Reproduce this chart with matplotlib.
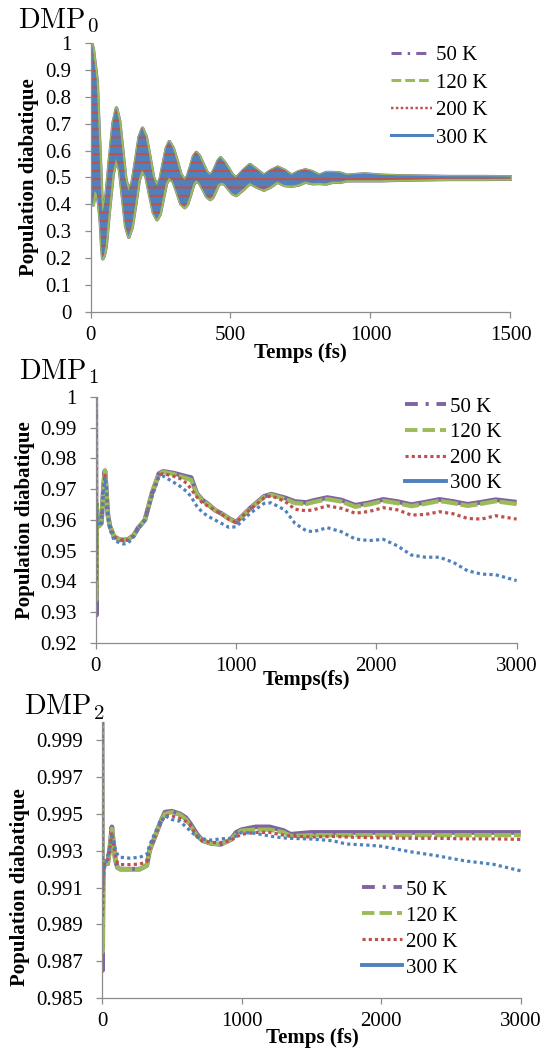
import matplotlib
matplotlib.use('Agg')
import matplotlib.pyplot as plt
from matplotlib.lines import Line2D
from matplotlib.ticker import FuncFormatter, MultipleLocator

plt.rcParams['font.family'] = ['Liberation Serif', 'DejaVu Serif']
plt.rcParams['mathtext.fontset'] = 'cm'
plt.rcParams['hatch.linewidth'] = 1.5

labels = ['50 K', '120 K', '200 K', '300 K']
colors = ['#8064A2', '#9BBB59', '#C0504D', '#4F81BD']

# DMP0 : band of the fast oscillation (top / bottom), read on the picture
t0 = [0, 3, 8, 15, 22, 28, 34, 38, 42, 47, 54, 66, 79, 91, 102, 113, 124, 135, 147,
      160, 172, 184, 197, 210, 223, 236, 247, 258, 269, 280, 294, 308, 321, 335, 345,
      356, 366, 376, 388, 401, 414, 426, 435, 445, 454, 463, 477, 491, 505, 519, 543,
      568, 593, 618, 642, 667, 692, 717, 741, 766, 791, 816, 840, 865, 890, 915, 977,
      1038, 1100, 1162, 1286, 1400, 1500]
dmp0_top = [1.0, 1.0, 0.98, 0.92, 0.86, 0.70, 0.55, 0.44, 0.37, 0.39, 0.436, 0.568,
            0.704, 0.76, 0.713, 0.605, 0.497, 0.45, 0.483, 0.568, 0.652, 0.685, 0.653,
            0.58, 0.503, 0.47, 0.496, 0.553, 0.61, 0.635, 0.61, 0.562, 0.514, 0.49,
            0.507, 0.544, 0.58, 0.595, 0.581, 0.551, 0.522, 0.51, 0.52, 0.542, 0.564,
            0.575, 0.558, 0.536, 0.512, 0.50, 0.527, 0.55, 0.53, 0.51, 0.527, 0.54, 0.528,
            0.51, 0.523, 0.53, 0.523, 0.51, 0.52, 0.52, 0.518, 0.51, 0.515, 0.51, 0.508,
            0.507, 0.505, 0.505, 0.504]
dmp0_bot = [0.95, 0.42, 0.40, 0.45, 0.44, 0.40, 0.33, 0.25, 0.20, 0.21, 0.246, 0.382,
            0.514, 0.57, 0.529, 0.425, 0.321, 0.28, 0.317, 0.404, 0.492, 0.53, 0.503,
            0.435, 0.371, 0.345, 0.366, 0.422, 0.478, 0.50, 0.486, 0.445, 0.404, 0.39,
            0.403, 0.438, 0.474, 0.49, 0.481, 0.456, 0.43, 0.42, 0.428, 0.45, 0.472,
            0.48, 0.478, 0.46, 0.442, 0.435, 0.456, 0.48, 0.466, 0.455, 0.467, 0.485,
            0.472, 0.47, 0.474, 0.485, 0.479, 0.48, 0.478, 0.485, 0.484, 0.49, 0.49,
            0.49, 0.492, 0.493, 0.495, 0.495, 0.496]

# DMP1
t1 = [0, 3, 6, 10, 20, 40, 55, 65, 75, 85, 100, 130, 170, 200, 230, 270, 300, 350,
      400, 450, 480, 550, 600, 650, 680, 720, 760, 800, 850, 900, 950, 1000, 1100,
      1200, 1250, 1350, 1420, 1500, 1550, 1650, 1750, 1850, 1950, 2050, 2150, 2250,
      2350, 2450, 2550, 2650, 2750, 2850, 3000]
dmp1_50 = [1.0, 0.929, 0.965, 0.958, 0.958, 0.959, 0.971, 0.976, 0.970, 0.962, 0.958,
           0.9546, 0.9536, 0.9535, 0.9537, 0.955, 0.9573, 0.960, 0.9686, 0.9751, 0.9758,
           0.9753, 0.9747, 0.9741, 0.9738, 0.9686, 0.9665, 0.9652, 0.9632, 0.962, 0.9605,
           0.9593, 0.9638, 0.9677, 0.9684, 0.9672, 0.9660, 0.9657, 0.9663, 0.9673, 0.9665,
           0.9648, 0.9656, 0.9667, 0.9660, 0.9650, 0.9658, 0.9667, 0.9660, 0.9651, 0.9658,
           0.9666, 0.9658]
dmp1_120 = [1.0, 0.934, 0.965, 0.958, 0.958, 0.959, 0.971, 0.976, 0.970, 0.962, 0.958,
            0.9546, 0.9536, 0.9535, 0.9537, 0.955, 0.9573, 0.960, 0.9686, 0.9750, 0.9756,
            0.9750, 0.9742, 0.9735, 0.9730, 0.9684, 0.9663, 0.9650, 0.9632, 0.962, 0.9604,
            0.9592, 0.9637, 0.9675, 0.9682, 0.9668, 0.9655, 0.9652, 0.9658, 0.9668, 0.9660,
            0.9643, 0.9651, 0.9662, 0.9655, 0.9645, 0.9653, 0.9662, 0.9655, 0.9646, 0.9653,
            0.9661, 0.9652]
dmp1_200 = [1.0, 0.940, 0.962, 0.958, 0.958, 0.959, 0.970, 0.975, 0.970, 0.962, 0.958,
            0.9546, 0.9535, 0.9533, 0.9535, 0.955, 0.9572, 0.960, 0.9684, 0.9745, 0.9751,
            0.9743, 0.9735, 0.9719, 0.9700, 0.9675, 0.9656, 0.9645, 0.9632, 0.9618, 0.9602,
            0.9592, 0.9635, 0.9672, 0.9679, 0.9660, 0.9635, 0.9630, 0.9633, 0.9646, 0.9638,
            0.9622, 0.9628, 0.9640, 0.9633, 0.9616, 0.9618, 0.9627, 0.9620, 0.9605, 0.9603,
            0.9614, 0.9603]
dmp1_300 = [1.0, 0.950, 0.966, 0.960, 0.958, 0.959, 0.969, 0.974, 0.971, 0.963, 0.957,
            0.9535, 0.9525, 0.9522, 0.9525, 0.9545, 0.957, 0.960, 0.9675, 0.9740, 0.9743,
            0.9724, 0.9710, 0.9692, 0.9675, 0.9645, 0.9625, 0.9612, 0.9600, 0.9588, 0.9576,
            0.9578, 0.9622, 0.9654, 0.9656, 0.9632, 0.9589, 0.9565, 0.9562, 0.9575, 0.9562,
            0.9538, 0.9533, 0.9537, 0.9516, 0.9486, 0.9479, 0.9479, 0.9462, 0.9435, 0.9424,
            0.9422, 0.9403]

# DMP2
t2 = [0, 3, 8, 20, 40, 55, 70, 80, 95, 110, 130, 200, 270, 320, 340, 380, 420, 450,
      500, 560, 600, 630, 680, 720, 780, 850, 920, 960, 1000, 1100, 1200, 1300, 1350,
      1500, 1650, 1750, 1900, 2000, 2200, 2400, 2600, 2800, 3000]
dmp2_50 = [1.0, 0.9865, 0.9920, 0.9924, 0.9923, 0.9931, 0.9943, 0.9935, 0.9925, 0.9921,
           0.9920, 0.9920, 0.9920, 0.9922, 0.9930, 0.9938, 0.9946, 0.9951, 0.99515, 0.9950,
           0.9948, 0.9945, 0.9939, 0.99355, 0.9934, 0.99335, 0.9936, 0.9940, 0.99415,
           0.9943, 0.9943, 0.9941, 0.9939, 0.9940, 0.9940, 0.9940, 0.9940, 0.9940, 0.9940,
           0.9940, 0.9940, 0.9940, 0.9940]
dmp2_120 = [1.0, 0.9875, 0.9920, 0.9924, 0.9923, 0.9931, 0.9942, 0.9935, 0.9925, 0.9921,
            0.9920, 0.9920, 0.9920, 0.9922, 0.9930, 0.9938, 0.9946, 0.9950, 0.9951, 0.99495,
            0.9947, 0.9944, 0.9938, 0.99355, 0.9934, 0.99335, 0.9936, 0.9939, 0.9941,
            0.99415, 0.99415, 0.9940, 0.9938, 0.99385, 0.99385, 0.99385, 0.99385, 0.99385,
            0.99385, 0.99385, 0.99385, 0.99385, 0.99385]
dmp2_200 = [1.0, 0.9895, 0.9920, 0.9924, 0.9925, 0.9931, 0.9940, 0.9935, 0.9927, 0.99235,
            0.99225, 0.99225, 0.99228, 0.9924, 0.9931, 0.9938, 0.9945, 0.9949, 0.9949,
            0.99475, 0.9946, 0.9944, 0.9938, 0.99355, 0.99345, 0.99345, 0.99355, 0.99375,
            0.9939, 0.9940, 0.9940, 0.99385, 0.9938, 0.99375, 0.99378, 0.99375, 0.99372,
            0.9937, 0.99368, 0.99368, 0.99365, 0.99365, 0.99362]
dmp2_300 = [1.0, 0.9908, 0.9915, 0.9922, 0.9927, 0.9932, 0.9938, 0.9936, 0.9931, 0.9928,
            0.99265, 0.9926, 0.99265, 0.9928, 0.9933, 0.9940, 0.99455, 0.9949, 0.9947,
            0.9946, 0.9943, 0.9941, 0.99375, 0.99365, 0.99358, 0.99365, 0.99368, 0.9938,
            0.9940, 0.99395, 0.9938, 0.9937, 0.99368, 0.99364, 0.99355, 0.99337, 0.99331,
            0.99325, 0.99296, 0.99273, 0.99245, 0.99227, 0.99191]

W, H = 541, 1055
fig = plt.figure(figsize=(W / 100, H / 100), dpi=100)


def box(left, top, right, bottom):
    return [left / W, 1 - bottom / H, (right - left) / W, (bottom - top) / H]


ax0 = fig.add_axes(box(90.5, 43, 510.5, 312))
ax1 = fig.add_axes(box(95.8, 397, 516.6, 643))
ax2 = fig.add_axes(box(102.1, 722, 520.8, 998))

fmt = FuncFormatter(lambda v, p: '%g' % round(v, 4))


def style(ax, xmax, xstep, ymin, ymax, ystep):
    ax.set_xlim(0, xmax)
    ax.set_ylim(ymin, ymax)
    ax.xaxis.set_major_locator(MultipleLocator(xstep))
    ax.yaxis.set_major_locator(MultipleLocator(ystep, offset=ymin))
    ax.yaxis.set_major_formatter(fmt)
    for s in ['top', 'right']:
        ax.spines[s].set_visible(False)
    for s in ['left', 'bottom']:
        ax.spines[s].set_color('#8c8c8c')
        ax.spines[s].set_linewidth(0.9)
    ax.tick_params(direction='out', length=4.3, width=0.9, color='#8c8c8c',
                   labelsize=15, labelcolor='black')
    ax.tick_params(axis='y', pad=9.5)
    ax.tick_params(axis='x', pad=6)


def legend(ax, x, y, lw, spacing):
    hs = [Line2D([], [], color=colors[0], lw=lw, ls=(0, (3.3, 2, 0.8, 2))),
          Line2D([], [], color=colors[1], lw=lw, ls=(0, (3.2, 1.3))),
          Line2D([], [], color=colors[2], lw=lw * 0.8, ls=(0, (1, 1))),
          Line2D([], [], color=colors[3], lw=lw, ls='-')]
    ax.legend(hs, labels, loc='upper left', bbox_to_anchor=(x, y), frameon=False,
              fontsize=15, handlelength=1.95, handletextpad=0.2,
              labelspacing=spacing, borderpad=0, borderaxespad=0)


# DMP0
style(ax0, 1500, 500, 0, 1, 0.1)
ax0.fill_between(t0, dmp0_bot, dmp0_top, facecolor=colors[0], edgecolor=colors[0], lw=2.6)
ax0.fill_between(t0, dmp0_bot, dmp0_top, facecolor=colors[1], edgecolor=colors[1], lw=2.2)
ax0.fill_between(t0, dmp0_bot, dmp0_top, facecolor=colors[3], edgecolor=colors[2],
                 hatch='--', lw=0)
legend(ax0, 0.7155, 0.99, 2.2, 0.38)

# DMP1
style(ax1, 3000, 1000, 0.92, 1.0, 0.01)
ax1.plot(t1, dmp1_50, color=colors[0], lw=3.4, solid_capstyle='butt')
ax1.plot(t1, dmp1_120, color=colors[1], lw=3.1, ls=(0, (4, 0.6)))
ax1.plot(t1, dmp1_200, color=colors[2], lw=2.3, ls=(0, (1, 1)))
ax1.plot(t1, dmp1_300, color=colors[3], lw=2.3, ls=(0, (1, 1)))
legend(ax1, 0.735, 1.0, 2.8, 0.29)

# DMP2
style(ax2, 3000, 1000, 0.985, 1.0, 0.002)
ax2.plot(t2, dmp2_50, color=colors[0], lw=3.4, solid_capstyle='butt')
ax2.plot(t2, dmp2_120, color=colors[1], lw=3.1, ls=(0, (4, 0.6)))
ax2.plot(t2, dmp2_200, color=colors[2], lw=2.3, ls=(0, (1, 1)))
ax2.plot(t2, dmp2_300, color=colors[3], lw=2.3, ls=(0, (1, 1)))
legend(ax2, 0.62, 0.4275, 2.8, 0.31)

# titles : "DMP" plus a lowered index, placed in pixels like the picture
for x, y, sx, sy, n in [(18, 28, 87, 32, '0'), (19, 379, 88, 383, '1'),
                        (24, 714, 93, 719, '2')]:
    fig.text(x / W, 1 - y / H, r'$\mathrm{DMP}$', fontsize=20.5, va='baseline', ha='left')
    fig.text(sx / W, 1 - sy / H, r'$\mathrm{%s}$' % n, fontsize=15, va='baseline', ha='left')

for x, y in [(29.4, 177), (25.4, 520), (20, 887)]:
    fig.text(x / W, 1 - y / H, 'Population diabatique', rotation=90, fontsize=15,
             fontweight='bold', ha='center', va='center')

for x, y, s in [(300, 353, 'Temps (fs)'), (306, 680, 'Temps(fs)'), (312, 1038, 'Temps (fs)')]:
    fig.text(x / W, 1 - y / H, s, fontsize=15, fontweight='bold', ha='center', va='center')

fig.savefig('out.png', dpi=100)
